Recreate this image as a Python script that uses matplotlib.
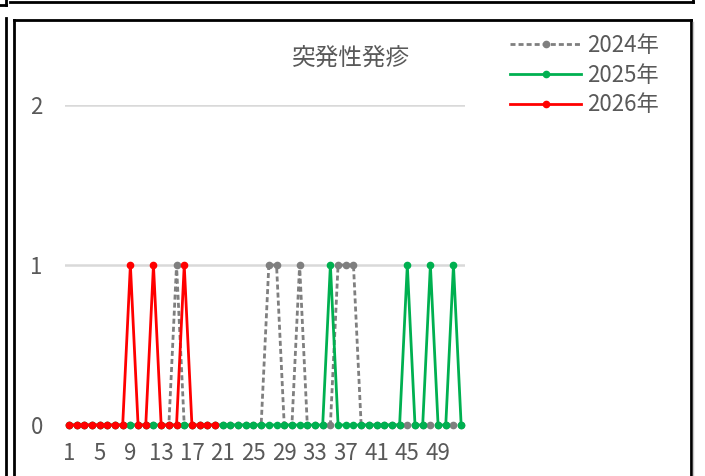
import numpy as np
import matplotlib
matplotlib.use("Agg")
import matplotlib.pyplot as plt
from matplotlib.lines import Line2D

plt.rcParams['font.family'] = ['Liberation Sans Narrow', 'Noto Sans CJK JP', 'DejaVu Sans']

weeks = list(range(1, 53))
y2024 = [0]*52
for w in [15, 27, 28, 31, 36, 37, 38]:
    y2024[w-1] = 1
y2025 = [0]*52
for w in [35, 45, 48, 51]:
    y2025[w-1] = 1
weeks2026 = list(range(1, 21))
y2026 = [0]*20
for w in [9, 12, 16]:
    y2026[w-1] = 1

title = "突発性発疹"
labels = ["2024年", "2025年", "2026年"]
xticks = list(range(1, 50, 4))

W, H = 705, 476
fig = plt.figure(figsize=(W/100, H/100), dpi=100)

# axes placed in pixel terms
L, R, T, B = 65, 465, 105, 425
ax = fig.add_axes([L/W, 1 - B/H, (R-L)/W, (B-T)/H])

txt = "#595959"
ax.plot(weeks, y2024, color="#7f7f7f", lw=2, ls=(0, (1.8, 1.1)),
        marker="o", ms=4.5, label=labels[0], zorder=3)
ax.plot(weeks, y2025, color="#00b050", lw=2, marker="o", ms=4.5,
        label=labels[1], zorder=4)
ax.plot(weeks2026, y2026, color="#ff0000", lw=2, marker="o", ms=4.5,
        label=labels[2], zorder=5)

ax.set_xlim(0.5, 52.5)
ax.set_ylim(0, 2)
ax.set_yticks([0, 1, 2])
ax.set_xticks(xticks)
ax.grid(axis="y", color="#d9d9d9", lw=1.8, zorder=0)
for s in ax.spines.values():
    s.set_visible(False)
ax.tick_params(axis="both", length=0, labelsize=16, labelcolor=txt)
ax.tick_params(axis="y", pad=16)
ax.tick_params(axis="x", pad=12)
for ln in ax.lines:
    ln.set_clip_on(False)

fig.text(351/W, 1 - 58/H, title, ha="center", va="center",
         fontsize=17, color=txt, family=['Noto Sans CJK JP', 'DejaVu Sans'])

leg = ax.legend(loc="upper left", bbox_to_anchor=(510/W, 1 - 34/H),
                bbox_transform=fig.transFigure, frameon=False,
                fontsize=16, handlelength=3.2, handletextpad=0.25,
                labelspacing=0.3, borderpad=0, borderaxespad=0)
for t in leg.get_texts():
    t.set_color(txt)

# frame lines (pixel coords)
def pline(xs, ys, lw=2.0, color="black"):
    fig.add_artist(Line2D([x/W for x in xs], [1 - y/H for y in ys],
                          transform=fig.transFigure, color=color, lw=lw))

pline([10, 693], [1.5, 1.5])
pline([693, 693], [0, 2])
pline([0, 6], [4.5, 4.5])
pline([5.5, 5.5], [0, 5])
pline([5.5, 5.5], [18, 476])
pline([13.5, 13.5], [19.5, 476])
pline([13.5, 690.5], [19.5, 19.5])
pline([690.5, 690.5], [19.5, 476])
pline([693, 693], [22, 476], lw=1, color="#c8c8c8")

fig.savefig("out.png", dpi=100)
